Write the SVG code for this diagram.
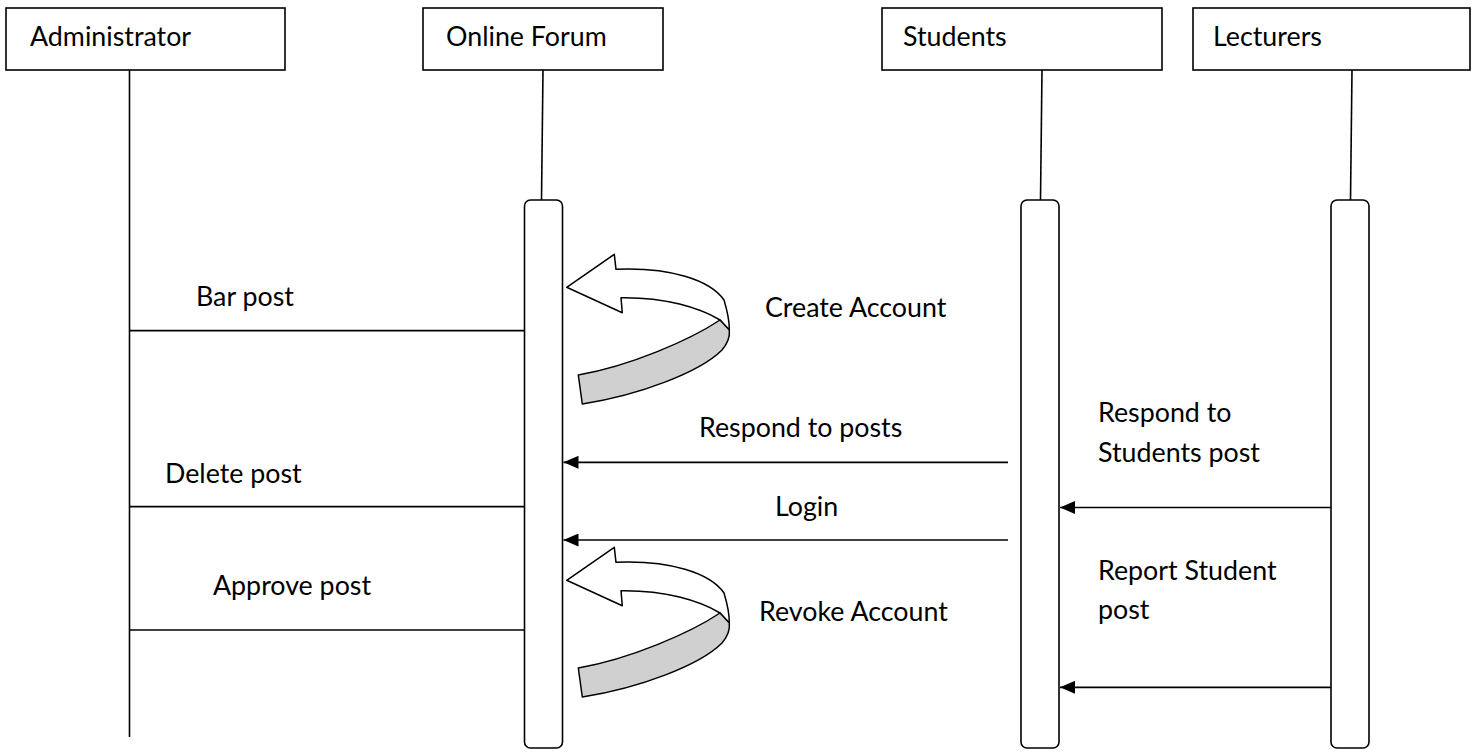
<svg xmlns="http://www.w3.org/2000/svg" width="1478" height="752" viewBox="0 0 1478 752">
<defs>
<style>
.box{fill:#fff;stroke:#000;stroke-width:1.6}
.act{fill:#fff;stroke:#000;stroke-width:1.6}
.life{stroke:#000;stroke-width:1.6;fill:none}
.msg{stroke:#000;stroke-width:1.7;fill:none}
.t{font-family:Lato,"Open Sans","Liberation Sans",sans-serif;font-size:26.8px;fill:#000}
.wh{fill:#fff;stroke:#000;stroke-width:1.5;stroke-linejoin:round}
.gr{fill:#d0d0d0;stroke:#000;stroke-width:1.5;stroke-linejoin:round}
</style>
<marker id="ah" viewBox="0 0 15 13" refX="15" refY="6.5" markerWidth="15" markerHeight="13" markerUnits="userSpaceOnUse" orient="auto">
<path d="M0,0 L15,6.5 L0,13 Z" fill="#000"/>
</marker>
<g id="selfArrow">
<path class="wh" d="M566.7,287.3 L614.3,254.3 L616,269.3 C670,267 710,280 724,300 C727,310 729.5,320 729.3,330 L720,320 C700,308 665,297 621,297.7 L622.3,312.7 Z"/>
<path class="gr" d="M720,320 C690,340 630,366 578.3,375 L582.3,404 C640,395 700,372 722,350 C728,343 730,336 729.3,330 Z"/>
</g>
</defs>
<rect width="1478" height="752" fill="#fff"/>

<g id="administrator">
<rect class="box" x="6" y="8" width="279" height="62"/>
<text class="t" x="30" y="46">Administrator</text>
<line class="life" x1="129.5" y1="70" x2="129.5" y2="737"/>
</g>

<g id="online-forum">
<rect class="box" x="423" y="8" width="240" height="62"/>
<text class="t" x="446" y="46">Online Forum</text>
<line class="life" x1="543" y1="70" x2="541.5" y2="200"/>
<rect class="act" x="524.5" y="200" width="38" height="548" rx="6"/>
</g>

<g id="students">
<rect class="box" x="882" y="8" width="280" height="62"/>
<text class="t" x="903" y="46">Students</text>
<line class="life" x1="1042" y1="70" x2="1040.5" y2="200"/>
<rect class="act" x="1021" y="200" width="38" height="548" rx="6"/>
</g>

<g id="lecturers">
<rect class="box" x="1193" y="8" width="277" height="62"/>
<text class="t" x="1213" y="46">Lecturers</text>
<line class="life" x1="1352" y1="70" x2="1350.5" y2="200"/>
<rect class="act" x="1331" y="200" width="38" height="548" rx="6"/>
</g>

<g id="connectors">
<line class="msg" x1="129.5" y1="330.7" x2="524.5" y2="330.7"/>
<line class="msg" x1="129.5" y1="506.7" x2="524.5" y2="506.7"/>
<line class="msg" x1="129.5" y1="630" x2="524.5" y2="630"/>
<line class="msg" x1="1008" y1="462.3" x2="563.5" y2="462.3" marker-end="url(#ah)"/>
<line class="msg" x1="1008" y1="540" x2="563.5" y2="540" marker-end="url(#ah)"/>
<line class="msg" x1="1331" y1="507.5" x2="1060" y2="507.5" marker-end="url(#ah)"/>
<line class="msg" x1="1331" y1="687.3" x2="1060" y2="687.3" marker-end="url(#ah)"/>
<use href="#selfArrow"/>
<use href="#selfArrow" transform="translate(0,293)"/>
</g>

<g id="labels">
<text class="t" x="196" y="306">Bar post</text>
<text class="t" x="765" y="316.7">Create Account</text>
<text class="t" x="699" y="436.7">Respond to posts</text>
<text class="t" x="165" y="482.7">Delete post</text>
<text class="t" x="775" y="516">Login</text>
<text class="t" x="213" y="595">Approve post</text>
<text class="t" x="759" y="621">Revoke Account</text>
<text class="t" x="1098" y="421.7">Respond to</text>
<text class="t" x="1098" y="461.7">Students post</text>
<text class="t" x="1098" y="580">Report Student</text>
<text class="t" x="1098" y="619">post</text>
</g>
</svg>
